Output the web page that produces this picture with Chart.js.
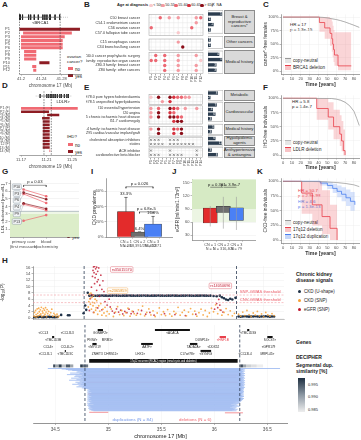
<!DOCTYPE html>
<html>
<head>
<meta charset="utf-8">
<title>Recurrent CNV associations</title>
<script src="https://cdn.jsdelivr.net/npm/chart.js"></script>
<style>
  body { margin:0; width:361px; height:440px; position:relative; overflow:hidden; background:#fff;
         font-family:"Liberation Sans", Arial, sans-serif; color:#222; }
  canvas { position:absolute; }
  .t { position:absolute; white-space:nowrap; font-size:4.5px; line-height:1.15; }
  .lab { position:absolute; font-weight:bold; font-size:8px; line-height:1; }
  .strip { position:absolute; background:#d9d9d9; border:0.5px solid #8c8c8c; box-sizing:border-box;
           font-size:4.2px; display:flex; align-items:center; justify-content:center; text-align:center; line-height:1.15; }
  .sw { position:absolute; }
  .dot { position:absolute; border-radius:50%; }
</style>
</head>
<body>

<!-- panel letters -->
<div class="lab" style="left:2px;top:1px">A</div>
<div class="lab" style="left:84px;top:1px">B</div>
<div class="lab" style="left:263px;top:1px">C</div>
<div class="lab" style="left:2px;top:82px">D</div>
<div class="lab" style="left:84px;top:84px">E</div>
<div class="lab" style="left:263px;top:84px">F</div>
<div class="lab" style="left:2px;top:168px">G</div>
<div class="lab" style="left:91px;top:168px">I</div>
<div class="lab" style="left:172px;top:168px">J</div>
<div class="lab" style="left:257px;top:168px">K</div>
<div class="lab" style="left:2px;top:257px">H</div>

<!-- A legend -->
<div class="t" style="left:67px;top:55px;font-size:4.3px">ovarian<br>cancer?</div>
<div class="sw" style="left:68px;top:67px;width:5px;height:3px;background:#f06a73"></div>
<div class="t" style="left:75px;top:66.5px">no</div>
<div class="sw" style="left:68px;top:74px;width:5px;height:3px;background:#8e1d24"></div>
<div class="t" style="left:75px;top:73.5px">yes</div>

<!-- D legend -->
<div class="t" style="left:67px;top:135px;font-size:4.3px">IHD?</div>
<div class="sw" style="left:68px;top:143px;width:5px;height:3px;background:#f06a73"></div>
<div class="t" style="left:75px;top:142.5px">no</div>
<div class="sw" style="left:68px;top:150px;width:5px;height:3px;background:#8e1d24"></div>
<div class="t" style="left:75px;top:149.5px">yes</div>

<!-- B age legend -->
<div class="t" style="left:117px;top:3.2px;font-size:3.9px;font-weight:bold">Age at diagnosis</div>
<div id="ageLegend"></div>

<!-- B / E facet strips -->
<div class="strip" style="left:224px;top:10px;width:31px;height:24px">Breast &amp;<br>reproductive<br>cancers*</div>
<div class="strip" style="left:224px;top:36px;width:31px;height:12px">Other cancers</div>
<div class="strip" style="left:224px;top:50px;width:31px;height:24px">Medical history</div>
<div class="strip" style="left:224px;top:90px;width:31px;height:11px">Metabolic</div>
<div class="strip" style="left:224px;top:102px;width:31px;height:20px">Cardiovascular</div>
<div class="strip" style="left:224px;top:124px;width:31px;height:11px">Medical history</div>
<div class="strip" style="left:224px;top:136px;width:31px;height:10px">Hypolipidemic<br>agents</div>
<div class="strip" style="left:224px;top:147px;width:31px;height:11px">Antihypertensive<br>&amp; antiangina</div>

<!-- C / F / K legends -->
<div class="t" style="left:290px;top:22px;font-size:4.4px">HR = 17<br>p = 1.3e-15</div>
<div class="sw" style="left:285px;top:58px;width:6px;height:4px;background:#e6e6e6;border-top:0.8px solid #999"></div>
<div class="t" style="left:293px;top:57.5px">copy-neutral</div>
<div class="sw" style="left:285px;top:65px;width:6px;height:4px;background:#f7c3c6;border-top:0.8px solid #e8404b"></div>
<div class="t" style="left:293px;top:64.5px">BRCA1 deletion</div>

<div class="t" style="left:292px;top:99px;font-size:4.4px">HR = 5.8<br>p = 1.4e-7</div>
<div class="sw" style="left:285px;top:140px;width:6px;height:4px;background:#e6e6e6;border-top:0.8px solid #999"></div>
<div class="t" style="left:293px;top:139.5px">copy-neutral</div>
<div class="sw" style="left:285px;top:147px;width:6px;height:4px;background:#f7c3c6;border-top:0.8px solid #e8404b"></div>
<div class="t" style="left:293px;top:146.5px">LDLR deletion</div>

<div class="t" style="left:298px;top:188px;font-size:4.4px;color:#e8404b">HR = 50.7<br>p = 2.9e-98</div>
<div class="t" style="left:298px;top:199px;font-size:4.4px;color:#4a7ff0">HR = 4.6<br>p = 1.3e-13</div>
<div class="sw" style="left:285px;top:220px;width:6px;height:4px;background:#e6e6e6;border-top:0.8px solid #999"></div>
<div class="t" style="left:293px;top:219.5px">copy-neutral</div>
<div class="sw" style="left:285px;top:227px;width:6px;height:4px;background:#f7c3c6;border-top:0.8px solid #e8404b"></div>
<div class="t" style="left:293px;top:226.5px">17q12 deletion</div>
<div class="sw" style="left:285px;top:234px;width:6px;height:4px;background:#c6d6f8;border-top:0.8px solid #4a7ff0"></div>
<div class="t" style="left:293px;top:233.5px">17q12 duplication</div>

<!-- G legend -->
<div class="t" style="left:66px;top:224px;font-size:4.3px">IHD?</div>
<div class="dot" style="left:67px;top:230px;width:2.6px;height:2.6px;background:#f06a73"></div>
<div class="t" style="left:72px;top:229.5px">no</div>
<div class="dot" style="left:67px;top:235px;width:2.6px;height:2.6px;background:#8e1d24"></div>
<div class="t" style="left:72px;top:234.5px">yes</div>

<!-- H legends -->
<div class="t" style="left:296px;top:272px;font-size:5px;font-weight:bold">Chronic kidney<br>disease signals</div>
<div class="dot" style="left:298px;top:289.5px;width:3.4px;height:3.4px;background:#1f3147"></div>
<div class="t" style="left:304px;top:289px">CKD (U-shape)</div>
<div class="dot" style="left:298px;top:298.5px;width:3.4px;height:3.4px;background:#f7a035"></div>
<div class="t" style="left:304px;top:298px">CKD (SNP)</div>
<div class="dot" style="left:298px;top:307.5px;width:3.4px;height:3.4px;background:#c1172e"></div>
<div class="t" style="left:304px;top:307px">eGFR (SNP)</div>
<div class="t" style="left:296px;top:340px;font-size:5px;font-weight:bold">Genes</div>
<div class="t" style="left:296px;top:355px;font-size:5px;font-weight:bold">DECIPHER</div>
<div class="t" style="left:296px;top:363px;font-size:5px;font-weight:bold">Segmental dup.<br>similarity [%]</div>
<div class="sw" style="left:298px;top:378px;width:7px;height:34px;background:linear-gradient(#1e2f40,#8d98a3,#eeeeee)"></div>
<div class="t" style="left:308px;top:382.5px;font-size:4px">0.995</div>
<div class="t" style="left:308px;top:395px;font-size:4px">0.990</div>
<div class="t" style="left:308px;top:407.5px;font-size:4px">0.985</div>

<script>
// ================= DATA =================
// A: BRCA1 deletions (chr17, Mb)
const brcaPat = ['P1','P2','P3','P4','P5','P6','P7','P8','P9','P10','P11','P12'];
const brcaStart = [41.197,41.204,41.200,41.200,41.200,41.200,41.206,41.206,41.206,41.236,41.222,41.224];
const brcaEnd   = [41.316,41.300,41.286,41.282,41.282,41.282,41.230,41.230,41.230,41.256,41.230,41.230];
const brcaOvarian = [1,0,0,0,0,0,0,0,0,1,0,0];
const brcaGene = [41.197,41.277];
const brcaExons = [41.197,41.199,41.203,41.215,41.219,41.226,41.234,41.243,41.247,41.251,41.256,41.258,41.267,41.276];
const brcaTicks = [41.2,41.24,41.28];

// D: LDLR deletions (chr19, Mb)
const ldlrPat = ['P1 (F)','P2 (F)','P3 (M)','P4 (M)','P5 (M)','P6 (M)','P7 (F)','P8 (M)','P9 (M)','P10 (M)','P11 (M)','P12 (F)','P13 (M)','P14 (M)'];
const ldlrStart = [11.170,11.170,11.211,11.203,11.204,11.204,11.204,11.204,11.204,11.204,11.204,11.204,11.204,11.2145];
const ldlrEnd   = [11.259,11.214,11.230,11.215,11.215,11.215,11.215,11.215,11.215,11.215,11.215,11.215,11.215,11.2158];
const ldlrIHD = [0,1,1,1,1,1,1,1,1,1,1,1,1,0];
const ldlrGene = [11.2000,11.2445];
const ldlrExons = [11.2000,11.2105,11.2135,11.2165,11.2185,11.2215,11.2240,11.2270,11.2310,11.2335,11.2380,11.2420,11.2445];
const ldlrRegion = [11.206,11.2175];
const ldlrTicks = [11.17,11.21,11.25];

// B: cancer phenotypes of BRCA1 deletion carriers
const bRows = ['C50 breast cancer','C54.1 endometrium cancer','C56 ovarian cancer','C57.0 fallopian tube cancer',
  'C15 oesophagus cancer','C34 bronchus/lung cancer',
  'Z40.0 cancer prophylactic surgery','Z80.4 family: reproductive organ cancer','Z80.3 family: breast cancer','Z80 family: other cancers'];
const bRowPos = [0,1,2,3,4.9,5.9,7.6,8.6,9.6,10.6];
const bFacets = [[0,3],[4.9,5.9],[7.6,10.6]];
// [patient column, age group] ; age group 0:<50 1:50-55 2:55-60 3:60-65 4:>65 5:NA
const bDots = [
  [[3,2],[5,1],[7,1],[11,1],[12,2]],
  [[11,1]],
  [[1,2],[10,2]],
  [[7,0]],
  [[7,1]],
  [[8,4]],
  [[2,2],[4,2],[7,1],[11,1]],
  [[1,2],[2,2],[4,2],[7,1],[12,0]],
  [[4,2],[7,1],[11,1]],
  [[4,2],[7,1],[11,1]]
];

// E: cardiovascular phenotypes of LDLR deletion carriers
const eRows = ['E78.0 pure hypercholesterolaemia','E78.5 unspecified hyperlipidaemia',
  'I10 essential hypertension','I20 angina','I25 chronic ischaemic heart disease','I51.7 cardiomegaly',
  'Z82.4 family: ischaemic heart disease','Z95 cardiac/vascular implant/graft',
  'cholesterol absorption inhibitors','statins','ACE inhibitor','cardioselective beta blocker'];
const eRowPos = [0,1,2.6,3.6,4.6,5.6,7.4,8.4,9.9,10.9,12.4,13.4];
const eFacets = [[0,1],[2.6,5.6],[7.4,8.4],[9.9,10.9],[12.4,13.4]];
const eDots = [
  [[1,0],[3,4],[6,4],[7,3],[8,2],[9,2],[10,1],[11,1]],
  [[4,1],[6,3]],
  [[1,1],[3,2],[6,4],[7,3],[8,2],[10,1],[13,1]],
  [[1,1],[3,4],[6,3],[7,2]],
  [[1,1],[3,4],[6,4],[7,4],[8,3],[9,2]],
  [[7,3],[8,4],[9,4]],
  [[1,1],[3,4],[7,3],[8,2],[9,4]],
  [[3,4],[7,3],[9,4]],
  [[1,5],[2,5],[3,5],[6,5],[7,5],[8,5]],
  [[1,5],[2,5],[3,5],[4,5],[6,5],[7,5],[8,5],[9,5],[10,5],[11,5],[12,5]],
  [[1,5],[6,5],[13,5]],
  [[1,5],[2,5],[3,5],[6,5],[7,5],[8,5],[9,5],[13,5]]
];
const ageLabels = ['< 50y','50-55y','55-60y','60-65y','> 65y','NA'];

// C: cancer-free survival, females
const cNeutT = [0,40,45,50,55,60,65,70,75,80,86];
const cNeutS = [1,1,0.995,0.985,0.97,0.955,0.935,0.91,0.88,0.85,0.81];
const cDelT  = [0,41,47,53,55,56,57,58,62,77];
const cDelS  = [1,0.9,0.8,0.7,0.6,0.5,0.4,0.3,0.1,0.1];
const cDelLo = [1,0.73,0.6,0.47,0.36,0.26,0.17,0.1,0.02,0.02];
const cDelHi = [1,1,1,0.98,0.92,0.84,0.76,0.72,0.72,0.72];

// F: IHD-free survival
const fNeutT = [0,55,60,65,70,75,80,83,86];
const fNeutS = [1,0.995,0.985,0.965,0.93,0.87,0.77,0.65,0.52];
const fDelT  = [0,38,51,57,64,66,68,70];
const fDelS  = [1,0.82,0.67,0.5,0.37,0.25,0.08,0];
const fDelLo = [1,0.62,0.45,0.28,0.16,0.07,0,0];
const fDelHi = [1,1,0.93,0.8,0.7,0.6,0.45,0.45];

// K: CKD-free survival
const kNeutT = [0,30,40,50,60,70,80,86];
const kNeutS = [1,0.998,0.995,0.99,0.98,0.965,0.94,0.91];
const kDelT  = [0,21,33,44,53,61];
const kDelS  = [1,0.8,0.6,0.4,0.2,0];
const kDelLo = [1,0.45,0.25,0.1,0,0];
const kDelHi = [1,1,1,0.85,0.6,0.6];
const kDupT  = [0,42,50,56,61,66,71,76,81];
const kDupS  = [1,0.97,0.93,0.88,0.83,0.78,0.72,0.66,0.6];
const kDupLo = [1,0.93,0.87,0.8,0.73,0.66,0.58,0.5,0.42];
const kDupHi = [1,1,0.99,0.96,0.93,0.9,0.86,0.82,0.8];

// G: LDL cholesterol, primary care vs biochemistry
const ldlPat = ['P10','P3','P6','P4','P9','P13'];
const ldlPrimary = [6.25,5.83,5.65,4.42,4.28,2.1];
const ldlBiochem = [5.35,4.95,4.45,3.7,3.5,2.85];
const ldlIHD = [0,1,0,1,0,0];
const ldlLabelY = [6.6,5.7,4.8,3.9,3.0,2.0];

// I: CKD prevalence by copy number
const cnLabelsI = [['CN = 1','N = 2/6'],['CN = 2','N = 18,391/286,633'],['CN = 3','N = 12/71']];
const ckdPrev = [33.3,6.4,16.9];
const ckdLo = [9.7,6.3,10.0];
const ckdHi = [52,6.5,27];

// J: eGFR by copy number
const cnLabelsJ = [['CN = 1','N = 5'],['CN = 2','N = 316,406'],['CN = 3','N = 79']];
const egfrMin = [50,45,42];
const egfrQ1  = [58,82,64];
const egfrMed = [64,90,82];
const egfrQ3  = [92,96,93];
const egfrMax = [97,118,118];

// H: association signals, 17q12
const uShape = [
 [34.300,0.3],[34.315,0.25],[34.330,0.35],[34.345,0.3],[34.360,0.4],[34.375,0.3],[34.390,0.25],[34.405,0.35],
 [34.420,0.3],[34.435,0.4],[34.450,0.3],[34.465,0.35],[34.480,0.3],[34.495,0.25],[34.510,0.3],[34.525,0.35],
 [34.560,1.0],[34.625,0.9],[34.640,0.9],[34.775,1.5],[34.790,4.0],[34.800,2.6],[34.815,8.0],
 [34.83,7.1],[34.85,7.15],[34.87,7.1],[34.89,7.05],[34.91,7.1],[34.93,7.1],[34.95,7.15],[34.97,7.1],[34.99,7.1],
 [35.01,7.05],[35.03,7.1],[35.05,7.1],[35.07,7.15],[35.09,7.1],[35.11,7.1],[35.13,7.05],[35.15,7.1],[35.17,7.1],
 [35.19,7.1],[35.21,7.15],[35.23,7.1],[35.25,7.1],[35.27,7.05],[35.29,7.1],[35.31,7.1],[35.33,7.1],[35.35,7.15],
 [35.37,7.1],[35.39,7.1],[35.41,7.05],[35.43,7.1],[35.45,7.1],[35.47,7.1],[35.49,7.15],[35.51,7.1],[35.53,7.1],
 [35.55,7.05],[35.57,7.1],[35.59,7.1],[35.61,7.1],[35.63,7.15],[35.65,7.1],[35.67,7.1],[35.69,7.05],[35.71,7.1],
 [35.73,7.1],[35.75,7.1],[35.77,7.15],[35.79,7.1],[35.81,7.1],[35.83,7.05],[35.85,7.1],[35.87,7.1],[35.89,7.1],
 [35.91,7.15],[35.93,7.1],[35.95,7.1],[35.97,7.05],[35.99,7.1],
 [36.02,7.0],[36.05,6.9],[36.08,7.1],[36.10,6.6],[36.12,6.3],[36.14,5.9],[36.16,5.7],[36.18,6.1],[36.20,5.9],[36.23,6.4],
 [36.26,0.5],[36.28,0.45],[36.30,0.5],[36.32,0.55],[36.34,0.5],[36.36,0.45],[36.38,0.5],[36.40,0.5],[36.42,0.55],
 [36.44,0.5],[36.46,0.45],[36.48,0.5],[36.50,0.5],[36.52,0.55],[36.54,0.5],[36.56,0.45],[36.58,0.5],[36.60,0.5]
];
const snpCkd = [
 [34.300,0.6],[34.305,1.8],[34.31,0.4],[34.315,2.4],[34.32,1.1],[34.325,0.3],[34.33,2.9],[34.335,1.5],[34.34,0.7],
 [34.345,3.1],[34.35,2.0],[34.355,0.9],[34.36,2.6],[34.365,1.3],[34.37,3.4],[34.375,0.5],[34.38,2.2],[34.385,1.6],
 [34.39,3.0],[34.395,0.8],[34.40,2.5],[34.405,1.2],[34.41,3.3],[34.415,1.9],[34.42,0.4],[34.425,2.7],[34.43,1.4],
 [34.44,2.1],[34.45,0.9],[34.46,1.7],[34.47,2.8],[34.48,0.6],[34.49,1.5],[34.50,1.0],[34.51,0.5],[34.52,1.2],
 [34.53,0.3],[34.54,0.7],
 [34.82,3.5],[34.825,5.2],[34.83,7.6],[34.835,6.1],[34.84,4.4],[34.845,7.9],[34.85,2.8],[34.855,6.6],[34.86,5.0],
 [34.865,3.9],[34.87,7.2],[34.875,1.8],[34.88,4.8],[34.885,6.0],[34.89,2.5],[34.895,3.3],[34.90,5.5],[34.91,1.2],
 [34.92,3.9],[34.93,2.2],[34.94,4.6],[34.95,0.9],[34.96,2.8],[34.97,1.6],[34.98,3.4],[34.99,0.7],[35.00,2.1],
 [35.02,1.3],[35.04,2.9],[35.06,0.5],[35.08,1.9],[35.10,3.6],[35.12,1.1],[35.14,2.4],[35.16,0.8],[35.18,1.7],
 [35.20,3.1],[35.22,0.6],[35.24,2.2],[35.26,1.4],[35.28,0.9],[35.30,2.6],[35.32,1.2],[35.34,3.8],[35.36,0.7],
 [35.38,1.8],[35.40,2.9],[35.42,1.0],[35.44,2.3],[35.46,0.5],[35.48,1.6],[35.50,3.2],[35.52,1.1],[35.54,2.0],
 [35.56,0.8],[35.58,2.7],[35.60,1.3],[35.62,0.6],[35.64,2.1],[35.66,1.5],[35.68,3.4],[35.70,0.9],[35.72,1.8],
 [35.74,2.5],[35.76,0.7],[35.78,1.9],[35.80,3.0],[35.82,1.2],[35.84,2.2],[35.86,0.6],[35.88,1.7],[35.90,2.8],
 [35.92,1.0],[35.94,2.4],[35.96,0.5],[35.98,1.6],[36.00,3.1],[36.02,2.0],[36.04,4.2],[36.06,1.4],[36.08,2.6],
 [36.10,0.9],[36.12,1.8],[36.14,3.0],[36.16,1.1],[36.18,2.3],[36.20,0.7],[36.22,1.5],
 [36.26,1.2],[36.28,0.6],[36.30,1.9],[36.32,0.8],[36.34,2.4],[36.36,1.1],[36.38,0.5],[36.40,1.6],[36.42,0.9],
 [36.44,2.1],[36.46,0.7],[36.48,1.3],[36.50,0.4],[36.52,1.8],[36.54,1.0],[36.56,0.6],[36.58,1.4],[36.60,0.8]
];
const snpEgfr = [
 [34.86,13.2],[34.865,15.1],[34.87,16.2],[34.875,14.4],[34.88,16.4],[34.885,12.8],[34.89,15.6],[34.895,13.9],
 [34.90,16.1],[34.905,11.5],[34.91,14.8],[34.915,12.2],[34.92,15.9],[34.93,10.4],[34.94,13.6],[34.95,9.1],
 [34.96,11.8],[34.97,8.4],[34.84,6.2],[34.85,9.8],[34.855,7.4],[34.88,10.9],[34.90,8.8],[34.925,6.9],[34.98,5.2],
 [35.00,4.1],[35.02,6.0],[34.83,2.4],[34.87,1.8],[34.91,3.2],[34.95,2.6],[35.03,3.5],[35.05,2.2],[35.07,1.6],
 [35.09,2.9],[35.11,1.9],[35.13,2.5],[35.15,1.3],[35.17,2.1],[35.19,1.7],[35.21,2.8],[35.23,1.4],[35.25,2.0],
 [35.29,1.5],[35.33,2.4],[35.37,1.2],[35.41,1.8],[35.45,0.9],[35.55,1.4],[35.65,1.1],[35.75,0.8],[35.85,1.2],
 [36.03,2.8],[36.05,4.6],[36.06,3.3],[36.07,5.9],[36.08,4.1],[36.09,2.5],[36.11,1.9]
];
const snpThreshold = 7.3;
const cnvThreshold = 4.9;
const regionBounds = [34.78,36.24];
const chrTicks = [34.5,35,35.5,36,36.5];

// genes: [label, start, end, row, colour]
const genes = [
 ['<CCL3',34.386,34.388,0,'k'],['<CCL3L3',34.612,34.614,0,'k'],['GGNBP2>',34.90,34.95,0,'k'],['<ACACA',35.44,35.77,0,'k'],['<TBC1D3G',36.31,36.33,0,'k'],
 ['<TBC1D3B',34.47,34.49,1,'k'],['PIGW>',34.848,34.851,1,'k'],['MRM1>',34.99,34.992,1,'k'],['DUSP14>',35.886,35.889,1,'k'],['<HNF1B',36.05,36.11,1,'r'],['SOCS7>',36.50,36.55,1,'k'],
 ['CCL4>',34.433,34.435,2,'k'],['CCL4L2>',34.612,34.614,2,'k'],['<MYO19',34.85,34.89,2,'k'],['AATF>',35.31,35.42,2,'k'],['TADA2A>',35.77,35.84,2,'k'],['<DDX52',35.989,35.992,2,'k'],['<GPR179',36.51,36.512,2,'k'],
 ['<CCL3L1',34.405,34.407,3,'k'],['<TBC1D3C',34.59,34.60,3,'k'],['ZNHIT3',34.895,34.897,3,'k'],['DHRS11>',35.027,35.029,3,'k'],['LHX1>',35.30,35.302,3,'k'],['C17orf78>',35.744,35.746,3,'k'],['<SYNRG',35.87,35.97,3,'k'],['<CCL3L4',36.29,36.292,3,'k'],['MRPL45>',36.5,36.502,3,'k']
];
const decipher = [34.82,36.22];
// segmental duplications: [start, end, similarity]
const segDups = [[34.48,34.50,0.996],[34.50,34.53,0.990],[34.53,34.56,0.997],[34.56,34.60,0.988],[34.60,34.64,0.995],
 [34.64,34.67,0.990],[34.735,34.76,0.997],[34.76,34.81,0.993],[36.245,36.27,0.996],[36.27,36.30,0.990],
 [36.30,36.35,0.987],[36.35,36.40,0.986],[36.40,36.46,0.985]];

// CNV carriers
const dupStart = [
 34.43,34.56,34.60,34.62,34.66,34.71,34.74,34.70,34.76,34.64,
 34.73,34.77,34.61,34.69,34.75,34.77,34.68,34.72,34.76,34.65,
 34.74,34.77,34.70,34.63,34.76,34.73,34.77,34.69,34.75,34.71,
 34.77,34.66,34.74,34.77,34.72,34.76,34.70,34.77,34.75,34.77,
 34.80,34.82,34.81,34.83,34.80,34.82,34.81,34.84,34.80,34.82,
 34.81,34.83,34.80,34.82,34.81,34.84,34.80,34.82,34.81,34.83,
 34.80,34.82,34.81,34.84,34.80,34.82,34.85,34.83,34.80,34.82,
 34.81,34.86,34.80,34.82,34.81,34.83,34.84,34.82,34.81,34.85,
 34.83,34.82,34.84,34.86];
const dupEnd = [
 36.62,36.29,36.27,36.28,36.26,36.29,36.27,36.28,36.26,36.27,
 36.29,36.28,36.26,36.27,36.29,36.28,36.26,36.27,36.28,36.29,
 36.27,36.26,36.28,36.27,36.29,36.26,36.28,36.27,36.29,36.28,
 36.26,36.27,36.29,36.28,36.27,36.26,36.28,36.29,36.27,36.28,
 36.27,36.26,36.28,36.27,36.25,36.28,36.26,36.27,36.28,36.26,
 36.27,36.25,36.28,36.26,36.27,36.28,36.26,36.25,36.27,36.28,
 36.26,36.27,36.24,36.26,36.22,36.25,36.20,36.24,36.18,36.23,
 36.21,36.16,36.22,36.19,36.24,36.17,36.21,36.15,36.20,36.18,
 36.22,36.19,36.17,36.21];
const delStart = [34.80,34.81,34.80,34.81,34.82,36.10];
const delEnd   = [36.22,36.21,36.22,36.20,35.00,36.27];
const delRow   = [13,17,27,50,86,87];

// ================= STYLE / HELPERS =================
const FONT = '"Liberation Sans", Arial, sans-serif';
const AX = '#4d4d4d';
const LRED = '#f06a73', DRED = '#8e1d24';
const AGE_COL = ['#f9c9cc','#f49aa1','#ec6772','#d8323f','#8b0d18'];
const KM_RED = '#e8404b', KM_BLUE = '#4a7ff0', KM_GRAY = '#9a9a9a';

Chart.defaults.font.family = FONT;
Chart.defaults.font.size = 4.5;
Chart.defaults.color = AX;
Chart.defaults.animation = false;
Chart.defaults.events = [];
Chart.defaults.plugins.legend.display = false;
Chart.defaults.plugins.tooltip.enabled = false;

function deco(spec) {
  return {
    id: 'deco',
    beforeDatasetsDraw(chart) {
      const ctx = chart.ctx, ca = chart.chartArea, xs = chart.scales.x, ys = chart.scales.y;
      (spec.rects || []).forEach(r => {
        const x0 = r.x0 == null ? ca.left : xs.getPixelForValue(r.x0);
        const x1 = r.x1 == null ? ca.right : xs.getPixelForValue(r.x1);
        const y0 = r.y0 == null ? ca.bottom : ys.getPixelForValue(r.y0);
        const y1 = r.y1 == null ? ca.top : ys.getPixelForValue(r.y1);
        const l = Math.min(x0, x1), t = Math.min(y0, y1), w = Math.abs(x1 - x0), h = Math.abs(y1 - y0);
        ctx.save();
        if (r.fill) { ctx.fillStyle = r.fill; ctx.fillRect(l, t, w, h); }
        ctx.lineWidth = 0.5;
        ctx.strokeStyle = r.gc || '#e3e3e3';
        (r.gx || []).forEach(v => { const p = xs.getPixelForValue(v); ctx.beginPath(); ctx.moveTo(p, t); ctx.lineTo(p, t + h); ctx.stroke(); });
        (r.gy || []).forEach(v => { const p = ys.getPixelForValue(v); ctx.beginPath(); ctx.moveTo(l, p); ctx.lineTo(l + w, p); ctx.stroke(); });
        if (r.stroke) { ctx.strokeStyle = r.stroke; ctx.lineWidth = r.lw || 0.5; ctx.strokeRect(l, t, w, h); }
        ctx.restore();
      });
    },
    afterDatasetsDraw(chart) {
      const ctx = chart.ctx, xs = chart.scales.x, ys = chart.scales.y;
      (spec.texts || []).forEach(o => {
        const px = xs.getPixelForValue(o.x) + (o.dx || 0), py = ys.getPixelForValue(o.y) + (o.dy || 0);
        const size = o.s || 4;
        ctx.save();
        ctx.font = (o.b ? 'bold ' : '') + size + 'px ' + FONT;
        ctx.textAlign = o.al || 'center';
        ctx.textBaseline = 'middle';
        if (o.box) {
          const w = ctx.measureText(o.t).width + 2.4, h = size + 1.8;
          let bx = px - w / 2;
          if (o.al === 'left') bx = px - 1.2;
          if (o.al === 'right') bx = px - w + 1.2;
          ctx.beginPath();
          ctx.roundRect(bx, py - h / 2, w, h, 1);
          ctx.fillStyle = o.box.fill || '#fff'; ctx.fill();
          ctx.strokeStyle = o.box.stroke || '#999'; ctx.lineWidth = 0.5; ctx.stroke();
        }
        ctx.fillStyle = o.c || '#222';
        ctx.fillText(o.t, px, py);
        ctx.restore();
      });
    }
  };
}

// place a chart so that its plot area is exactly [pl,pr] x [pt,pb] on the page
function mk(pl, pt, pr, pb, yW, xH, cfg, spec) {
  const cv = document.createElement('canvas');
  const left = pl - yW, top = pt;
  cv.width = pr - left; cv.height = pb + xH - top;
  cv.style.left = left + 'px'; cv.style.top = top + 'px';
  document.body.appendChild(cv);
  const o = cfg.options = cfg.options || {};
  o.responsive = false; o.maintainAspectRatio = false; o.animation = false;
  o.layout = { padding: 0 };
  o.scales.x.afterFit = s => { s.height = xH; };
  o.scales.y.afterFit = s => { s.width = yW; };
  cfg.plugins = [deco(spec || {})];
  return new Chart(cv, cfg);
}

const fixTicks = vals => s => { s.ticks = vals.map(v => ({ value: v })); };

function seg(x0, y0, x1, y1, color, width, dash) {
  return { type: 'line', data: [{ x: x0, y: y0 }, { x: x1, y: y1 }], borderColor: color, borderWidth: width,
           borderDash: dash || [], pointRadius: 0, fill: false, tension: 0, borderCapStyle: 'butt' };
}
function pts(data, color, r, style) {
  return { type: 'scatter', data: data, backgroundColor: color, borderColor: color, borderWidth: 0,
           pointRadius: r, pointStyle: style || 'circle' };
}
function kmLine(t, s, color, w) {
  return { type: 'line', data: t.map((v, i) => ({ x: v, y: s[i] })), stepped: true, borderColor: color,
           borderWidth: w, pointRadius: 0, fill: false };
}
function kmBand(t, lo, hi, fillCol) {
  return [
    { type: 'line', data: t.map((v, i) => ({ x: v, y: hi[i] })), stepped: true, borderWidth: 0, pointRadius: 0, fill: false },
    { type: 'line', data: t.map((v, i) => ({ x: v, y: lo[i] })), stepped: true, borderWidth: 0, pointRadius: 0, fill: '-1', backgroundColor: fillCol }
  ];
}
function smoothBand(t, s, d, fillCol) {
  return [
    { type: 'line', data: t.map((v, i) => ({ x: v, y: Math.min(1, s[i] + d) })), borderWidth: 0, pointRadius: 0, fill: false },
    { type: 'line', data: t.map((v, i) => ({ x: v, y: s[i] - d })), borderWidth: 0, pointRadius: 0, fill: '-1', backgroundColor: fillCol }
  ];
}
const noAxis = { grid: { display: false }, border: { display: false }, ticks: { display: false } };
const tickGrid = { drawOnChartArea: false, drawTicks: true, tickLength: 1.5, color: AX, lineWidth: 0.5 };

// ================= A =================
(function () {
  const ds = [];
  brcaGene.forEach(g => ds.push(seg(g, -3.2, g, 13.2, '#333', 0.6, [1.5, 1.2])));
  ds.push(seg(41.188, -2.2, 41.292, -2.2, '#8a8a8a', 0.5, [1, 1]));
  ds.push(seg(brcaGene[0], -2.2, brcaGene[1], -2.2, '#555', 0.6));
  brcaExons.forEach(e => ds.push(seg(e, -2.9, e, -1.5, '#222', 0.9)));
  brcaPat.forEach((p, i) => ds.push(seg(brcaStart[i], i + 1, brcaEnd[i], i + 1, brcaOvarian[i] ? DRED : LRED, 3)));
  mk(19, 9, 82, 74, 19, 14, {
    type: 'scatter', data: { datasets: ds },
    options: { scales: {
      x: { type: 'linear', min: 41.196, max: 41.32, afterBuildTicks: fixTicks(brcaTicks),
           ticks: { callback: v => String(+v.toFixed(2)), font: { size: 4.2 }, padding: 1, autoSkip: false, maxRotation: 0 },
           grid: tickGrid, border: { display: true, color: AX, width: 0.5 },
           title: { display: true, text: 'chromosome 17 (Mb)', font: { size: 4.6 }, padding: 0 } },
      y: { type: 'linear', min: -3.5, max: 13, reverse: true, afterBuildTicks: fixTicks(brcaPat.map((p, i) => i + 1)),
           ticks: { callback: v => brcaPat[v - 1], font: { size: 4 }, padding: 1, autoSkip: false },
           grid: { display: false }, border: { display: false } }
    } }
  }, { texts: [{ x: 41.238, y: -0.6, t: '<BRCA1', s: 4.2, c: '#222' }] });
})();

// ================= D =================
(function () {
  const ds = [];
  ldlrRegion.forEach(g => ds.push(seg(g, -4.3, g, 15.3, '#333', 0.6, [1.5, 1.2])));
  ds.push(seg(11.193, -2.8, 11.250, -2.8, '#8a8a8a', 0.5, [1, 1]));
  ds.push(seg(ldlrGene[0], -2.8, ldlrGene[1], -2.8, '#555', 0.6));
  ldlrExons.forEach(e => ds.push(seg(e, -3.4, e, -2.2, '#222', 0.8)));
  ldlrPat.forEach((p, i) => ds.push(seg(ldlrStart[i], i + 1, ldlrEnd[i], i + 1, ldlrIHD[i] ? DRED : LRED, 2.6)));
  mk(19, 88, 82, 155, 19, 14, {
    type: 'scatter', data: { datasets: ds },
    options: { scales: {
      x: { type: 'linear', min: 11.1668, max: 11.2657, afterBuildTicks: fixTicks(ldlrTicks),
           ticks: { callback: v => v.toFixed(2), font: { size: 4.2 }, padding: 1, autoSkip: false, maxRotation: 0 },
           grid: tickGrid, border: { display: true, color: AX, width: 0.5 },
           title: { display: true, text: 'chromosome 19 (Mb)', font: { size: 4.6 }, padding: 0 } },
      y: { type: 'linear', min: -4.3, max: 15.3, reverse: true, afterBuildTicks: fixTicks(ldlrPat.map((p, i) => i + 1)),
           ticks: { callback: v => ldlrPat[v - 1], font: { size: 3.6 }, padding: 1, autoSkip: false },
           grid: { display: false }, border: { display: false } }
    } }
  }, { texts: [{ x: 11.236, y: -1.1, t: 'LDLR>', s: 4.2, c: '#222' }] });
})();

// ================= B and E dot matrices =================
function dotMatrix(rows, rowPos, facets, dots, nCol, pt, pb, yMin, yMax, maxCount, rowFont) {
  const byAge = [[], [], [], [], [], []];
  dots.forEach((row, r) => row.forEach(d => byAge[d[1]].push({ x: d[0], y: rowPos[r] })));
  const ds = byAge.slice(0, 5).map((d, a) => pts(d, AGE_COL[a], 1.7));
  ds.push({ type: 'scatter', data: byAge[5], pointStyle: 'crossRot', pointRadius: 1.6, borderColor: '#444', borderWidth: 0.5 });
  const cols = []; for (let c = 1; c <= nCol; c++) cols.push(c);
  const rects = facets.map(f => ({ x0: 0.5, x1: nCol + 0.5, y0: f[0] - 0.62, y1: f[1] + 0.62, fill: '#fff', stroke: '#9a9a9a',
    gx: cols, gy: rowPos.filter(p => p >= f[0] && p <= f[1]), gc: '#e6e6e6' }));
  mk(149, pt, 207, pb, 149 - 86, 9, {
    type: 'scatter', data: { datasets: ds },
    options: { scales: {
      x: { type: 'linear', min: 0.5, max: nCol + 0.5, afterBuildTicks: fixTicks(cols),
           ticks: { callback: v => 'P' + v, font: { size: 3.4 }, padding: 0.5, autoSkip: false, minRotation: 90, maxRotation: 90 },
           grid: tickGrid, border: { display: false } },
      y: { type: 'linear', min: yMin, max: yMax, reverse: true, afterBuildTicks: fixTicks(rowPos),
           ticks: { callback: v => rows[rowPos.indexOf(v)], font: { size: rowFont }, padding: 1, autoSkip: false, color: '#333' },
           grid: { display: false }, border: { display: false } }
    } }
  }, { rects: rects });

  // counts
  const cds = [], texts = [];
  dots.forEach((row, r) => {
    cds.push(seg(0, rowPos[r], row.length, rowPos[r], '#2c3d4f', 3.4));
    texts.push({ x: row.length, y: rowPos[r], dx: -1.3, t: String(row.length), s: 3.2, c: '#fff' });
  });
  const crects = facets.map(f => ({ x0: 0, x1: maxCount, y0: f[0] - 0.62, y1: f[1] + 0.62, fill: '#fff', stroke: '#9a9a9a' }));
  mk(208, pt, 223, pb, 0, 0, {
    type: 'scatter', data: { datasets: cds },
    options: { scales: {
      x: Object.assign({ type: 'linear', min: 0, max: maxCount }, noAxis),
      y: Object.assign({ type: 'linear', min: yMin, max: yMax, reverse: true }, noAxis)
    } }
  }, { rects: crects, texts: texts });
}
dotMatrix(bRows, bRowPos, bFacets, bDots, 12, 10, 74, -0.755, 11.32, 5.3, 3.7);
dotMatrix(eRows, eRowPos, eFacets, eDots, 14, 90, 158, -0.65, 14.13, 12, 3.6);

// age legend
(function () {
  const el = document.getElementById('ageLegend');
  const xs = [151, 163, 176, 189, 202];
  let html = '';
  xs.forEach((x, i) => {
    html += '<div class="dot" style="left:' + (x - 2) + 'px;top:3.5px;width:3.8px;height:3.8px;background:' + AGE_COL[i] + '"></div>';
    html += '<div class="t" style="left:' + (x + 2.3) + 'px;top:3.3px;font-size:3.7px">' + ageLabels[i] + '</div>';
  });
  html += '<div class="t" style="left:211px;top:2.4px;font-size:4.8px;color:#444">&#x2715;</div>';
  html += '<div class="t" style="left:216.5px;top:3.3px;font-size:3.7px">' + ageLabels[5] + '</div>';
  el.innerHTML = html;
})();

// ================= KM panels =================
function kmScales(yTitle) {
  return {
    x: { type: 'linear', min: -2.3, max: 86.8, afterBuildTicks: fixTicks([0, 10, 20, 30, 40, 50, 60, 70, 80]),
         ticks: { font: { size: 4 }, padding: 1, autoSkip: false, maxRotation: 0 },
         grid: { color: '#ececec', lineWidth: 0.4, drawTicks: true, tickLength: 1.5, tickColor: AX },
         border: { display: true, color: AX, width: 0.5 },
         title: { display: true, text: 'Time [years]', font: { size: 5.2, weight: 'bold' }, padding: 0, color: '#333' } },
    y: { type: 'linear', min: -0.05, max: 1.05, afterBuildTicks: fixTicks([0, 0.25, 0.5, 0.75, 1]),
         ticks: { callback: v => Math.round(v * 100) + '%', font: { size: 4 }, padding: 1, autoSkip: false },
         grid: { color: '#ececec', lineWidth: 0.4, drawTicks: true, tickLength: 1.5, tickColor: AX },
         border: { display: true, color: AX, width: 0.5 },
         title: { display: true, text: yTitle, font: { size: 4.8 }, padding: 0, color: '#333' } }
  };
}
function neutralLine(t, s) {
  return { type: 'line', data: t.map((v, i) => ({ x: v, y: s[i] })), borderColor: KM_GRAY, borderWidth: 0.7, pointRadius: 0, fill: false };
}
mk(281, 11, 360, 74, 18, 14, {
  type: 'scatter',
  data: { datasets: [].concat(smoothBand(cNeutT, cNeutS, 0.006, 'rgba(150,150,150,0.25)'), [neutralLine(cNeutT, cNeutS)],
    kmBand(cDelT, cDelLo, cDelHi, 'rgba(232,64,75,0.22)'), [kmLine(cDelT, cDelS, KM_RED, 0.8)]) },
  options: { scales: kmScales('cancer*-free females') }
});
mk(281, 92, 360, 158, 18, 13, {
  type: 'scatter',
  data: { datasets: [].concat(smoothBand(fNeutT, fNeutS, 0.008, 'rgba(150,150,150,0.25)'), [neutralLine(fNeutT, fNeutS)],
    kmBand(fDelT, fDelLo, fDelHi, 'rgba(232,64,75,0.22)'), [kmLine(fDelT, fDelS, KM_RED, 0.8)]) },
  options: { scales: kmScales('IHD-free individuals') }
});
mk(281, 175, 360, 243, 18, 14, {
  type: 'scatter',
  data: { datasets: [].concat(smoothBand(kNeutT, kNeutS, 0.004, 'rgba(150,150,150,0.25)'), [neutralLine(kNeutT, kNeutS)],
    kmBand(kDelT, kDelLo, kDelHi, 'rgba(232,64,75,0.22)'), [kmLine(kDelT, kDelS, KM_RED, 0.8)],
    kmBand(kDupT, kDupLo, kDupHi, 'rgba(74,127,240,0.22)'), [kmLine(kDupT, kDupS, KM_BLUE, 0.8)]) },
  options: { scales: kmScales('CKD-free individuals') }
});

// ================= G =================
(function () {
  const ds = [];
  ldlPat.forEach((p, i) => {
    const c = ldlIHD[i] ? DRED : LRED;
    ds.push(seg(-0.16, ldlLabelY[i], 0, ldlPrimary[i], '#9aa4ad', 0.4));
    ds.push(seg(0, ldlPrimary[i], 1, ldlBiochem[i], c, 0.7));
    ds.push(pts([{ x: 0, y: ldlPrimary[i] }, { x: 1, y: ldlBiochem[i] }], c, 1.3));
  });
  ds.push(seg(0, 6.8, 1, 6.8, '#333', 0.5));
  ds.push(seg(0, 6.8, 0, 6.6, '#333', 0.5));
  ds.push(seg(1, 6.8, 1, 6.6, '#333', 0.5));
  ds.push(seg(-0.6, 3.35, 2.45, 3.35, '#8c9aa6', 0.6));
  const texts = ldlPat.map((p, i) => ({ x: -0.3, y: ldlLabelY[i], t: p, s: 3.8, c: '#333', box: { stroke: '#8c9aa6', fill: '#f4f6f8' } }));
  texts.push({ x: 0.5, y: 7.2, t: 'p = 0.03', s: 4.2, c: '#222' });
  mk(10, 176, 83, 237, 10, 16, {
    type: 'scatter', data: { datasets: ds },
    options: { scales: {
      x: { type: 'linear', min: -0.6, max: 2.45, afterBuildTicks: fixTicks([0, 1]),
           ticks: { callback: v => v === 0 ? ['primary care', '(first measure)'] : ['blood', 'biochemistry'], font: { size: 4.3 }, padding: 1, autoSkip: false, maxRotation: 0 },
           grid: tickGrid, border: { display: true, color: AX, width: 0.5 } },
      y: { type: 'linear', min: -0.05, max: 7.5, afterBuildTicks: fixTicks([1, 2, 3, 4, 5, 6, 7]),
           ticks: { font: { size: 4.2 }, padding: 1, autoSkip: false },
           grid: { color: '#e4e4e4', lineWidth: 0.4, drawTicks: true, tickLength: 1.5, tickColor: AX },
           border: { display: true, color: AX, width: 0.5 },
           title: { display: true, text: 'LDL cholesterol [mmol/L]', font: { size: 4.4 }, padding: 0, color: '#333' } }
    } }
  }, { rects: [{ y0: -0.05, y1: 3.0, fill: '#dcedc9' }, { y0: 3.0, y1: 3.35, fill: '#eef6e6' }], texts: texts });
})();

// ================= I =================
(function () {
  const cols = ['#e32b2b', '#6e6e6e', '#4a80f5'];
  const ds = [{ type: 'bar', data: ckdPrev.map((v, i) => ({ x: i + 1, y: v })), backgroundColor: cols,
                borderColor: '#333', borderWidth: 0.5, barThickness: 17 }];
  const texts = [];
  ckdPrev.forEach((v, i) => {
    ds.push(seg(i + 1, ckdLo[i], i + 1, ckdHi[i], '#222', 0.6));
    ds.push(seg(i + 0.88, ckdLo[i], i + 1.12, ckdLo[i], '#222', 0.6));
    ds.push(seg(i + 0.88, ckdHi[i], i + 1.12, ckdHi[i], '#222', 0.6));
    texts.push({ x: i + 1, y: ckdHi[i], dy: -3.5, t: v.toFixed(1) + '%', s: 4.2, c: '#222' });
  });
  ds.push(seg(1, 66, 3, 66, '#333', 0.5)); ds.push(seg(1, 66, 1, 64, '#333', 0.5)); ds.push(seg(3, 66, 3, 64, '#333', 0.5));
  ds.push(seg(2, 33, 3, 33, '#333', 0.5)); ds.push(seg(2, 33, 2, 31, '#333', 0.5)); ds.push(seg(3, 33, 3, 31, '#333', 0.5));
  texts.push({ x: 2, y: 69.5, t: 'p = 0.026', s: 4.2, c: '#222' });
  texts.push({ x: 2.5, y: 36.5, t: 'p = 6.8e-5', s: 4.2, c: '#222' });
  mk(106, 175, 173, 237, 14, 14, {
    type: 'bar', data: { datasets: ds },
    options: { scales: {
      x: { type: 'linear', min: 0.35, max: 3.65, afterBuildTicks: fixTicks([1, 2, 3]),
           ticks: { callback: v => cnLabelsI[v - 1], font: { size: 3.8 }, padding: 1, autoSkip: false, maxRotation: 0 },
           grid: tickGrid, border: { display: true, color: AX, width: 0.5 } },
      y: { type: 'linear', min: 0, max: 77, afterBuildTicks: fixTicks([0, 20, 40, 60]),
           ticks: { callback: v => v + '%', font: { size: 4 }, padding: 1, autoSkip: false },
           grid: { color: '#e8e8e8', lineWidth: 0.4, drawTicks: true, tickLength: 1.5, tickColor: AX },
           border: { display: true, color: AX, width: 0.5 },
           title: { display: true, text: 'CKD prevalence', font: { size: 4.8 }, padding: 0, color: '#333' } }
    } }
  }, { texts: texts });
})();

// ================= J =================
(function () {
  const cols = ['#e32b2b', '#6e6e6e', '#4a80f5'];
  const ds = [{ type: 'bar', data: egfrQ1.map((v, i) => ({ x: i + 1, y: [v, egfrQ3[i]] })), backgroundColor: cols,
                borderColor: '#333', borderWidth: 0.5, barThickness: 14, borderSkipped: false }];
  egfrQ1.forEach((v, i) => {
    ds.unshift(seg(i + 1, egfrMin[i], i + 1, egfrMax[i], '#9a9a9a', 0.6));
    ds.push(seg(i + 0.64, egfrMed[i], i + 1.36, egfrMed[i], '#222', 0.9));
  });
  ds.push(seg(1, 140, 2, 140, '#333', 0.5)); ds.push(seg(2.04, 140, 3, 140, '#333', 0.5));
  mk(192, 176, 256, 240, 17, 14, {
    type: 'bar', data: { datasets: ds },
    options: { scales: {
      x: { type: 'linear', min: 0.42, max: 3.68, afterBuildTicks: fixTicks([1, 2, 3]),
           ticks: { callback: v => cnLabelsJ[v - 1], font: { size: 3.8 }, padding: 1, autoSkip: false, maxRotation: 0 },
           grid: tickGrid, border: { display: true, color: AX, width: 0.5 } },
      y: { type: 'linear', min: 19, max: 158, afterBuildTicks: fixTicks([30, 60, 90, 120, 150]),
           ticks: { font: { size: 4 }, padding: 1, autoSkip: false },
           grid: { color: '#e8e8e8', lineWidth: 0.4, drawTicks: true, tickLength: 1.5, tickColor: AX },
           border: { display: true, color: AX, width: 0.5 },
           title: { display: true, text: 'eGFR [ml/min/1.73m²]', font: { size: 4.6 }, padding: 0, color: '#333' } }
    } }
  }, { rects: [{ y0: 90, fill: '#d6eac4' }, { y0: 60, y1: 90, fill: '#ecf5e3' }],
       texts: [{ x: 1.5, y: 145, t: 'p = 0.361', s: 4.2 }, { x: 2.55, y: 145, t: 'p = 3.9e-7', s: 4.2 }] });
})();

// ================= H =================
const H_L = 33, H_R = 288, X_MIN = 34.29, X_MAX = 36.695;
const xH = { type: 'linear', min: X_MIN, max: X_MAX };
(function () {
  const ds = [];
  regionBounds.forEach(b => ds.push(seg(b, -0.3, b, 16.6, '#2d3e55', 0.8, [3, 2])));
  ds.push(seg(X_MIN, snpThreshold, X_MAX, snpThreshold, '#f29aa0', 0.6, [2, 1.5]));
  ds.push(seg(X_MIN, cnvThreshold, X_MAX, cnvThreshold, '#f29aa0', 0.6, [2, 1.5]));
  ds.push(pts(snpCkd.map(p => ({ x: p[0], y: p[1] })), 'rgba(247,160,53,0.85)', 0.9));
  ds.push(pts(snpEgfr.map(p => ({ x: p[0], y: p[1] })), 'rgba(193,23,46,0.8)', 0.9));
  ds.push(pts(uShape.map(p => ({ x: p[0], y: p[1] })), '#1f3147', 1.3));
  const texts = [
    { x: 35.14, y: 15.4, t: 'rs35015570', s: 3.8, c: '#c1172e', box: { stroke: '#e06b76', fill: '#fff' } },
    { x: 35.1, y: 8.7, t: 'rs2365859', s: 3.8, c: '#e8901f', box: { stroke: '#f2b46a', fill: '#fff' } },
    { x: 36.085, y: 10.2, t: 'rs14050696', s: 3.8, c: '#c1172e', box: { stroke: '#e06b76', fill: '#fff' } },
    { x: 36.27, y: 7.3, dy: -3, t: 'SNP-GWAS threshold', s: 4.2, c: '#ee5a66', al: 'left' },
    { x: 36.27, y: 4.9, dy: -3, t: 'CNV-GWAS threshold', s: 4.2, c: '#ee5a66', al: 'left' }
  ];
  mk(H_L, 262, H_R, 323, 33, 0, {
    type: 'scatter', data: { datasets: ds },
    options: { scales: {
      x: Object.assign({}, xH, { grid: { color: '#ececec', lineWidth: 0.4, drawTicks: false },
           afterBuildTicks: fixTicks(chrTicks), ticks: { display: false }, border: { display: true, color: '#9a9a9a', width: 0.6 } }),
      y: { type: 'linear', min: -0.3, max: 16.5, afterBuildTicks: fixTicks([0, 2, 4, 6, 8, 10, 12, 14, 16]),
           ticks: { font: { size: 4.3 }, padding: 1, autoSkip: false },
           grid: { color: '#ececec', lineWidth: 0.4, drawTicks: true, tickLength: 1.5, tickColor: AX },
           border: { display: true, color: AX, width: 0.5 },
           title: { display: true, text: '-log\u2081\u2080(P)', font: { size: 4.8 }, padding: 0, color: '#333' } }
    } }
  }, { texts: texts });
})();

// genes / DECIPHER / segmental duplications
(function () {
  const ds = [];
  regionBounds.forEach(b => ds.push(seg(b, -0.8, b, 5.5, '#2d3e55', 0.8, [3, 2])));
  const texts = [];
  genes.forEach(g => {
    const col = g[4] === 'r' ? '#e8404b' : '#111';
    ds.push(seg(g[1], g[3], Math.max(g[2], g[1] + 0.004), g[3], col, 2));
    texts.push({ x: (g[1] + g[2]) / 2, y: g[3], dy: 3.4, t: g[0], s: 3.1, c: g[4] === 'r' ? '#e8404b' : '#222' });
  });
  ds.push(seg(decipher[0], 4.43, decipher[1], 4.43, '#111', 3.6));
  texts.push({ x: (decipher[0] + decipher[1]) / 2, y: 4.43, t: '17q12 recurrent (RCAD) region (renal cysts and diabetes)', s: 2.6, c: '#fff' });
  const lo = [238, 238, 238], hi = [30, 47, 64];
  segDups.forEach(s => {
    const f = Math.max(0, Math.min(1, (s[2] - 0.985) / 0.013));
    const c = 'rgb(' + lo.map((v, k) => Math.round(v + (hi[k] - v) * f)).join(',') + ')';
    ds.push(seg(s[0], 5.15, s[1], 5.15, c, 3));
  });
  mk(H_L, 325, H_R, 368, 33, 0, {
    type: 'scatter', data: { datasets: ds },
    options: { scales: {
      x: Object.assign({}, xH, { afterBuildTicks: fixTicks(chrTicks), ticks: { display: false },
           grid: { color: '#eeeeee', lineWidth: 0.4, drawTicks: false }, border: { display: false } }),
      y: Object.assign({ type: 'linear', min: -0.72, max: 5.45, reverse: true }, noAxis)
    } }
  }, { texts: texts });
})();

// CNV carriers
(function () {
  const dup = [], del = [];
  dupStart.forEach((s, i) => { dup.push({ x: s, y: i }, { x: dupEnd[i], y: i }, { x: dupEnd[i], y: null }); });
  delStart.forEach((s, i) => { del.push({ x: s, y: delRow[i] }, { x: delEnd[i], y: delRow[i] }, { x: delEnd[i], y: null }); });
  const ds = [];
  regionBounds.forEach(b => ds.push(seg(b, -1, b, 108, '#2d3e55', 0.8, [3, 2])));
  ds.push({ type: 'line', data: dup, borderColor: '#a3bdf2', borderWidth: 0.9, pointRadius: 0, spanGaps: false, fill: false });
  ds.push({ type: 'line', data: del, borderColor: '#f07a80', borderWidth: 0.8, pointRadius: 0, spanGaps: false, fill: false });
  mk(H_L, 368, H_R, 423, 33, 17, {
    type: 'scatter', data: { datasets: ds },
    options: { scales: {
      x: Object.assign({}, xH, { afterBuildTicks: fixTicks(chrTicks),
           ticks: { callback: v => String(v), font: { size: 4.6 }, padding: 1.5, autoSkip: false, maxRotation: 0 },
           grid: { color: '#eeeeee', lineWidth: 0.4, drawTicks: true, tickLength: 2, tickColor: AX },
           border: { display: true, color: AX, width: 0.6 },
           title: { display: true, text: 'chromosome 17 [Mb]', font: { size: 5.6 }, padding: 0, color: '#222' } }),
      y: Object.assign({ type: 'linear', min: -1, max: 107, reverse: true }, noAxis)
    } }
  }, { texts: [{ x: 35.23, y: 100.5, t: 'duplications (N = 84)', s: 4.4, c: '#6f95e8' },
               { x: 35.82, y: 100.5, t: 'deletions (N = 6)', s: 4.4, c: '#f0656e' }] });
})();
</script>
</body>
</html>
